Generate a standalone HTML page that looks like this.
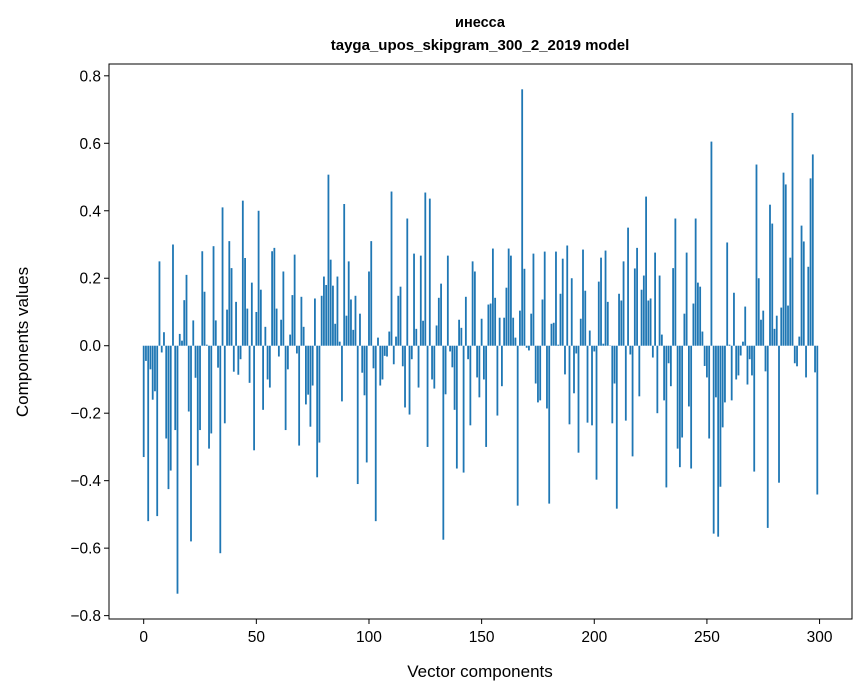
<!DOCTYPE html>
<html><head><meta charset="utf-8"><style>
body{margin:0;background:#fff;}
svg{display:block;font-family:"Liberation Sans","DejaVu Sans",sans-serif;}
</style></head><body>
<svg id="chart" width="867" height="696">
<g id="bars"></g>
<g id="axes"></g>
<text x="480" y="27" text-anchor="middle" font-size="14.5" font-weight="bold">инесса</text>
<text x="480" y="50" text-anchor="middle" font-size="15" font-weight="bold">tayga_upos_skipgram_300_2_2019 model</text>
<text x="480" y="677" text-anchor="middle" font-size="17">Vector components</text>
<text x="28" y="342" text-anchor="middle" font-size="17" transform="rotate(-90 28 342)">Components values</text>
</svg>
<script>
const values = [
-0.33,-0.045,-0.52,-0.07,-0.16,-0.135,-0.505,0.25,-0.02,0.04,
-0.275,-0.425,-0.37,0.30,-0.25,-0.735,0.035,0.015,0.135,0.21,
-0.195,-0.58,0.075,-0.095,-0.355,-0.25,0.28,0.16,0.003,-0.305,
-0.26,0.295,0.075,-0.065,-0.615,0.41,-0.23,0.107,0.31,0.23,
-0.077,0.13,-0.086,-0.04,0.43,0.26,0.11,-0.11,0.187,-0.31,
0.10,0.40,0.166,-0.19,0.056,-0.10,-0.124,0.28,0.29,0.11,
-0.032,0.077,0.22,-0.25,-0.07,0.033,0.15,0.27,-0.023,-0.296,
0.145,0.056,-0.174,-0.145,-0.24,-0.118,0.14,-0.39,-0.287,0.148,
0.205,0.18,0.507,0.255,0.178,0.065,0.205,0.012,-0.165,0.42,
0.089,0.25,0.137,0.047,0.148,-0.41,0.095,-0.08,-0.147,-0.346,
0.22,0.31,-0.067,-0.52,0.024,-0.118,-0.10,-0.03,-0.032,0.042,
0.457,-0.055,0.027,0.148,0.175,-0.061,-0.183,0.377,-0.204,-0.04,
0.273,0.05,-0.124,0.267,0.074,0.454,-0.30,0.436,-0.10,-0.127,
0.06,0.142,0.184,-0.575,-0.144,0.267,-0.017,-0.064,-0.19,-0.364,
0.077,0.053,-0.376,0.145,-0.04,-0.236,0.25,0.22,-0.094,-0.153,
0.08,-0.10,-0.30,0.122,0.125,0.288,0.142,-0.207,0.083,-0.12,
0.083,0.172,0.288,0.267,0.083,0.024,-0.474,0.104,0.76,0.228,
-0.006,-0.014,0.095,0.273,-0.112,-0.168,-0.162,0.137,0.279,-0.186,
-0.468,0.065,0.068,0.279,0.003,0.154,0.258,-0.085,0.297,-0.233,
0.20,-0.141,-0.023,-0.317,0.08,0.285,0.163,-0.228,0.045,-0.236,
-0.017,-0.397,0.19,0.261,0.006,0.282,0.13,0.0,-0.23,-0.112,
-0.483,0.154,0.134,0.25,-0.222,0.35,-0.026,-0.328,0.229,0.29,
-0.15,0.166,0.208,0.442,0.134,0.14,-0.035,0.276,-0.20,0.208,
0.033,-0.162,-0.42,-0.052,-0.12,0.23,0.377,-0.305,-0.36,-0.272,
0.095,0.276,-0.18,-0.364,0.125,0.377,0.187,0.175,0.042,-0.06,
-0.094,-0.275,0.605,-0.557,-0.153,-0.566,-0.418,-0.242,-0.168,0.306,
0.003,-0.162,0.157,-0.10,-0.088,-0.029,0.012,0.116,-0.115,-0.04,
-0.088,-0.373,0.537,0.20,0.077,0.104,-0.076,-0.54,0.418,0.362,
0.05,0.089,-0.406,0.113,0.513,0.478,0.119,0.261,0.69,-0.052,
-0.061,0.027,0.356,0.309,-0.094,0.234,0.496,0.567,-0.079,-0.441
];
const xTicks = [0,50,100,150,200,250,300];
const yTicks = [-0.8,-0.6,-0.4,-0.2,0.0,0.2,0.4,0.6,0.8];

const L=109,R=852,T=64,B=619;
const xmin=-15.4,xmax=314.4,ymin=-0.81,ymax=0.835;
const sx=v=>L+(v-xmin)/(xmax-xmin)*(R-L);
const sy=v=>T+(ymax-v)/(ymax-ymin)*(B-T);
const NS='http://www.w3.org/2000/svg';
const bars=document.getElementById('bars');
values.forEach((v,i)=>{
  const r=document.createElementNS(NS,'rect');
  const x0=sx(i-0.4),x1=sx(i+0.4);
  const y0=sy(Math.max(v,0)),y1=sy(Math.min(v,0));
  r.setAttribute('x',x0);r.setAttribute('width',x1-x0);
  r.setAttribute('y',y0);r.setAttribute('height',Math.max(y1-y0,0.3));
  r.setAttribute('fill','#1f77b4');
  
  
  bars.appendChild(r);
});
const axes=document.getElementById('axes');
function el(tag,attrs,txt){const e=document.createElementNS(NS,tag);for(const k in attrs)e.setAttribute(k,attrs[k]);if(txt!==undefined)e.textContent=txt;axes.appendChild(e);return e;}
const frame=el('rect',{x:L,y:T,width:R-L,height:B-T,fill:'none',stroke:'#000','stroke-width':1});


xTicks.forEach(t=>{
  const x=sx(t);
  const ln=el('line',{x1:x,x2:x,y1:B,y2:B+5,stroke:'#000'});
  
  
  const tx=el('text',{x:x,y:B+23,'text-anchor':'middle','font-size':15.5},String(t));
  
  
});
yTicks.forEach(t=>{
  const y=sy(t);
  const ln=el('line',{x1:L-5,x2:L,y1:y,y2:y,stroke:'#000'});
  
  
  const s=(t<0?'\u2212':'')+Math.abs(t).toFixed(1);
  const tx=el('text',{x:L-8,y:y+5.5,'text-anchor':'end','font-size':15.5},s);
  
  
});
</script>
</body></html>
